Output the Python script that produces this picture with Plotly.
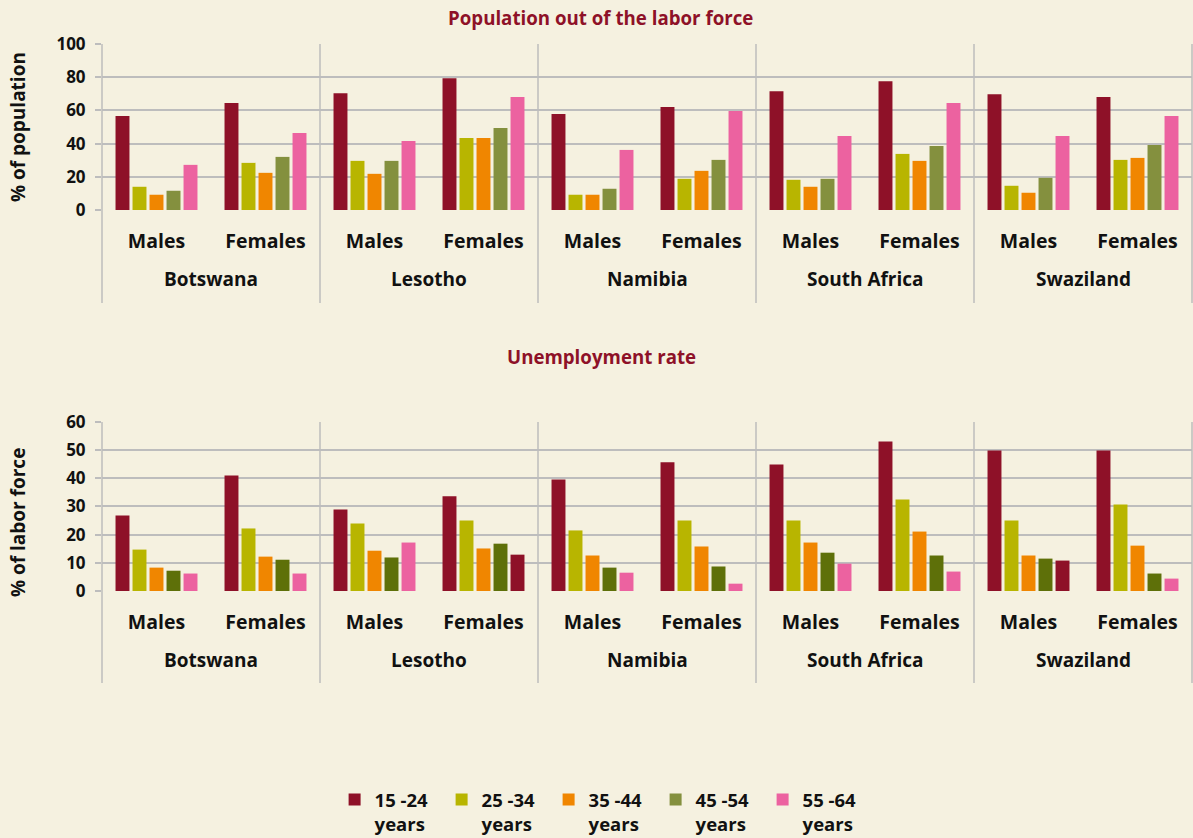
import plotly.graph_objects as go

countries = ["Botswana", "Lesotho", "Namibia", "South Africa", "Swaziland"]
genders = ["Males", "Females"]
age_groups = ["15 -24<br>years", "25 -34<br>years", "35 -44<br>years", "45 -54<br>years", "55 -64<br>years"]

# Population out of the labor force (% of population); order: country x (Males, Females)
out_15_24 = [56.6, 64.4, 70.4, 79.4, 57.8, 62.0, 71.6, 77.6, 69.8, 68.0]
out_25_34 = [14.0, 28.4, 29.6, 43.4, 9.2, 18.8, 18.2, 33.8, 14.6, 30.2]
out_35_44 = [9.2, 22.4, 21.8, 43.4, 9.2, 23.6, 14.0, 29.6, 10.4, 31.4]
out_45_54 = [11.6, 32.0, 29.6, 49.4, 12.8, 30.2, 18.8, 38.6, 19.4, 39.2]
out_55_64 = [27.2, 46.4, 41.6, 68.0, 36.2, 59.6, 44.6, 64.4, 44.6, 56.6]

# Unemployment rate (% of labor force)
un_15_24 = [26.8, 41.0, 28.9, 33.6, 39.6, 45.7, 44.9, 53.1, 49.9, 49.9]
un_25_34 = [14.7, 22.2, 24.0, 25.0, 21.5, 25.0, 25.0, 32.5, 25.0, 30.7]
un_35_44 = [8.3, 12.2, 14.3, 15.1, 12.6, 15.8, 17.2, 21.1, 12.6, 16.1]
un_45_54 = [7.2, 11.1, 11.9, 16.8, 8.3, 8.7, 13.6, 12.6, 11.5, 6.2]
un_55_64 = [6.2, 6.2, 17.2, 12.9, 6.5, 2.6, 9.7, 6.9, 10.8, 4.4]

colors = ["#8E1128", "#B8B500", "#F08600", "#84903E", "#EC62A0"]
bottom_45_color = "#5E7009"
# bars drawn in dark red in the original lower chart for the oldest group
un_55_colors = ["#EC62A0", "#EC62A0", "#EC62A0", "#8E1128", "#EC62A0",
                "#EC62A0", "#EC62A0", "#EC62A0", "#8E1128", "#EC62A0"]

cats = [f"{c} {g}" for c in countries for g in genders]
cat_text = [g for _ in countries for g in genders]

FONT = "Open Sans"
BG = "#F5F1E0"
GRID = "#BDBDBD"
TXT = "#111111"
RED = "#8E1128"

fig = go.Figure()
top_series = [out_15_24, out_25_34, out_35_44, out_45_54, out_55_64]
bot_series = [un_15_24, un_25_34, un_35_44, un_45_54, un_55_64]
for i, (name, vals) in enumerate(zip(age_groups, top_series)):
    fig.add_trace(go.Bar(x=cats, y=vals, name=name, marker=dict(color=colors[i], line=dict(width=0)),
                         xaxis="x", yaxis="y", legendgroup=name))
bot_colors = [colors[0], colors[1], colors[2], bottom_45_color, un_55_colors]
for i, (name, vals) in enumerate(zip(age_groups, bot_series)):
    fig.add_trace(go.Bar(x=cats, y=vals, name=name, marker=dict(color=bot_colors[i], line=dict(width=0)),
                         xaxis="x2", yaxis="y2", legendgroup=name, showlegend=False))

gender_font = dict(family=FONT, size=19.5, color=TXT, weight="bold")
label_font = dict(family=FONT, size=19, color=TXT, weight="bold")
tick_font = dict(family=FONT, size=17, color=TXT, weight="bold")
common_x = dict(type="category", showgrid=False, showline=False, zeroline=False,
                tickvals=cats, ticktext=cat_text, tickfont=gender_font, ticks="",
                ticklabelstandoff=17, automargin=False)
common_y = dict(gridcolor=GRID, gridwidth=1.5, zeroline=False, showline=False,
                ticks="outside", ticklen=6, tickcolor=GRID, tickwidth=1.5,
                tickfont=tick_font, ticklabelstandoff=6, automargin=False)
fig.update_layout(
    xaxis=dict(domain=[0, 1], anchor="y", **common_x),
    xaxis2=dict(domain=[0, 1], anchor="y2", **common_x),
    yaxis=dict(domain=[0.6965, 1], anchor="x", range=[0, 100], dtick=20, **common_y),
    yaxis2=dict(domain=[0, 0.309], anchor="x2", range=[0, 60], dtick=10, **common_y),
    barmode="group", bargap=0.22, bargroupgap=0.18,
    width=1193, height=838,
    margin=dict(l=102, r=1, t=44, b=247, autoexpand=False),
    paper_bgcolor=BG, plot_bgcolor=BG,
    font=dict(family=FONT, size=16, color=TXT),
    showlegend=True,
    legend=dict(orientation="h", x=0.2134, xanchor="left", y=-0.3475, yanchor="top",
                font=dict(family=FONT, size=18.5, color=TXT, weight="bold"), bgcolor="rgba(0,0,0,0)",
                valign="top", entrywidth=62, traceorder="normal"),
)

# country labels under each pair of gender labels
for ya, yoff in (("y", -0.4157), ("y2", -0.408)):
    xa = "x" if ya == "y" else "x2"
    for k, c in enumerate(countries):
        fig.add_annotation(text=c, xref=f"{xa} domain", yref=f"{ya} domain",
                           x=(k + 0.5) / len(countries), y=yoff, showarrow=False,
                           xanchor="center", yanchor="middle", font=label_font)

# axis titles
fig.add_annotation(text="% of population", xref="paper", yref="y domain", x=-0.077, y=0.5,
                   textangle=-90, showarrow=False, xanchor="center", yanchor="middle", font=label_font)
fig.add_annotation(text="% of labor force", xref="paper", yref="y2 domain", x=-0.077, y=0.402,
                   textangle=-90, showarrow=False, xanchor="center", yanchor="middle", font=label_font)

# chart titles
title_font = dict(family=FONT, size=18.7, color=RED, weight="bold")
fig.add_annotation(text="Population out of the labor force", xref="paper", yref="y domain",
                   x=0.457, y=1.0, yshift=27, showarrow=False, xanchor="center", yanchor="middle",
                   font=title_font)
fig.add_annotation(text="Unemployment rate", xref="paper", yref="y2 domain",
                   x=0.458, y=1.0, yshift=65, showarrow=False, xanchor="center", yanchor="middle",
                   font=title_font)

# vertical separators between countries (plot area and label area)
for xa, ya, ext in (("x", "y", -0.56), ("x2", "y2", -0.544)):
    for k in range(len(countries) + 1):
        fig.add_shape(type="line", xref=f"{xa} domain", yref=f"{ya} domain",
                      x0=k / len(countries), x1=k / len(countries), y0=1, y1=ext,
                      line=dict(color=GRID, width=1.5), layer="below")

fig.write_html("out.html", config={"displayModeBar": False},
               post_script="document.body.style.margin='0';document.body.style.background='%s';" % BG)
